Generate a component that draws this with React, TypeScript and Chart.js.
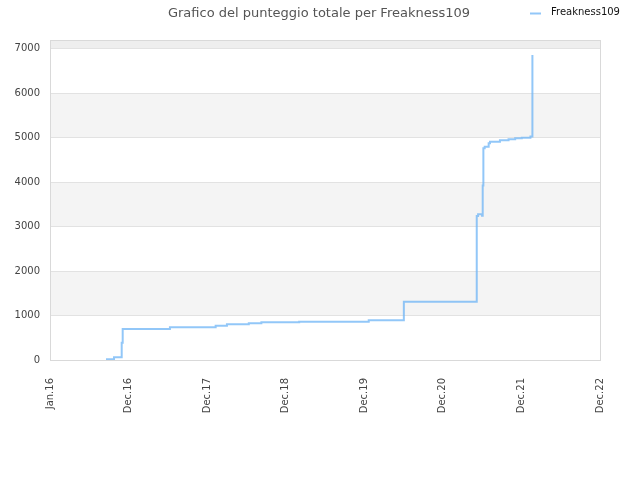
import { useEffect, useRef } from "react"
import { Chart, ChartConfiguration, Plugin, registerables } from "chart.js"

Chart.register(...registerables)

const chartTitle = "Grafico del punteggio totale per Freakness109"
const seriesName = "Freakness109"

// months since Jan 2016 at which the score changes
const months = [
	8.45, 9.66, 10.82, 10.97, 18.1, 25.0, 26.7, 30.0, 31.9, 37.6, 48.1, 53.4, 64.4, 64.6, 65.2, 65.3, 65.4, 65.6,
	66.2, 66.4, 67.9, 69.2, 70.2, 71.2, 72.5, 72.8
]
const scores = [
	15, 60, 390, 700, 735, 772, 803, 825, 848, 862, 892, 1312, 3241, 3279, 3245, 3924, 4764, 4800, 4875, 4913,
	4943, 4965, 4988, 5003, 5026, 6865
]

const xTickLabels = ["Jan.16", "Dec.16", "Dec.17", "Dec.18", "Dec.19", "Dec.20", "Dec.21", "Dec.22"]
const xMax = 83
const yMax = 7200
const yStep = 1000

const lineColor = "rgba(110,180,245,0.75)"
const font = "DejaVu Sans"

const frame: Plugin = {
	id: "frame",
	beforeDraw(chart) {
		const { ctx, chartArea } = chart
		const y = chart.scales.y
		ctx.save()
		// alternating bands
		for (let v = yStep; v < yMax; v += 2 * yStep) {
			const top = y.getPixelForValue(Math.min(v + yStep, yMax))
			const bottom = y.getPixelForValue(v)
			ctx.fillStyle = v + yStep >= yMax ? "#eeeeee" : "#f4f4f4"
			ctx.fillRect(chartArea.left, top, chartArea.right - chartArea.left, bottom - top)
		}
		ctx.restore()
	},
	afterDraw(chart) {
		const { ctx, chartArea } = chart
		ctx.save()
		ctx.strokeStyle = "#d9d9d9"
		ctx.lineWidth = 1
		ctx.strokeRect(chartArea.left + 0.5, chartArea.top + 0.5, chartArea.right - chartArea.left, chartArea.bottom - chartArea.top)

		ctx.fillStyle = "#555"
		ctx.font = `13px "${font}"`
		ctx.textAlign = "center"
		ctx.textBaseline = "alphabetic"
		ctx.fillText(chartTitle, 319, 17)

		ctx.strokeStyle = lineColor
		ctx.lineWidth = 2
		ctx.beginPath()
		ctx.moveTo(530, 13.5)
		ctx.lineTo(541, 13.5)
		ctx.stroke()
		ctx.fillStyle = "#111"
		ctx.font = `10px "${font}"`
		ctx.textAlign = "left"
		ctx.textBaseline = "middle"
		ctx.fillText(seriesName, 551, 12.5)
		ctx.restore()
	}
}

const config: ChartConfiguration<"line"> = {
	type: "line",
	data: {
		datasets: [
			{
				label: seriesName,
				data: months.map((m, i) => ({ x: m, y: scores[i] })),
				borderColor: lineColor,
				borderWidth: 2,
				pointRadius: 0,
				stepped: true,
				fill: false
			}
		]
	},
	options: {
		animation: false,
		responsive: false,
		layout: {
			padding: { top: 40, right: 40, left: 0, bottom: 0 }
		},
		plugins: {
			legend: { display: false },
			title: { display: false },
			tooltip: { enabled: false }
		},
		scales: {
			x: {
				type: "linear",
				min: 0,
				max: xMax,
				afterFit: (s) => {
					s.height = 120
				},
				afterBuildTicks: (s) => {
					s.ticks = xTickLabels.map((_, i) => ({ value: (i * xMax) / (xTickLabels.length - 1) }))
				},
				grid: { display: false },
				border: { display: false },
				ticks: {
					autoSkip: false,
					minRotation: 90,
					maxRotation: 90,
					padding: 10,
					color: "#444",
					font: { family: font, size: 10 },
					callback: (_v, i) => xTickLabels[i]
				}
			},
			y: {
				min: 0,
				max: yMax,
				afterFit: (s) => {
					s.width = 50
				},
				afterBuildTicks: (s) => {
					const t = []
					for (let v = 0; v <= yMax; v += yStep) t.push({ value: v })
					s.ticks = t
				},
				grid: { color: "#e2e2e2", drawTicks: false },
				border: { display: false },
				ticks: {
					padding: 10,
					color: "#444",
					font: { family: font, size: 10 },
					callback: (v) => String(v)
				}
			}
		}
	},
	plugins: [frame]
}

export default function App() {
	const canvasRef = useRef<HTMLCanvasElement>(null)

	useEffect(() => {
		const ctx = canvasRef.current?.getContext("2d") as CanvasRenderingContext2D
		const chart = new Chart(ctx, config)
		return () => {
			chart.destroy()
		}
	}, [])

	return (
		<div style={{ position: "fixed", left: 0, top: 0, width: 640, height: 480, background: "#fff" }}>
			<canvas ref={canvasRef} width={640} height={480}>
				Your browser does not support the canvas element.
			</canvas>
		</div>
	)
}
